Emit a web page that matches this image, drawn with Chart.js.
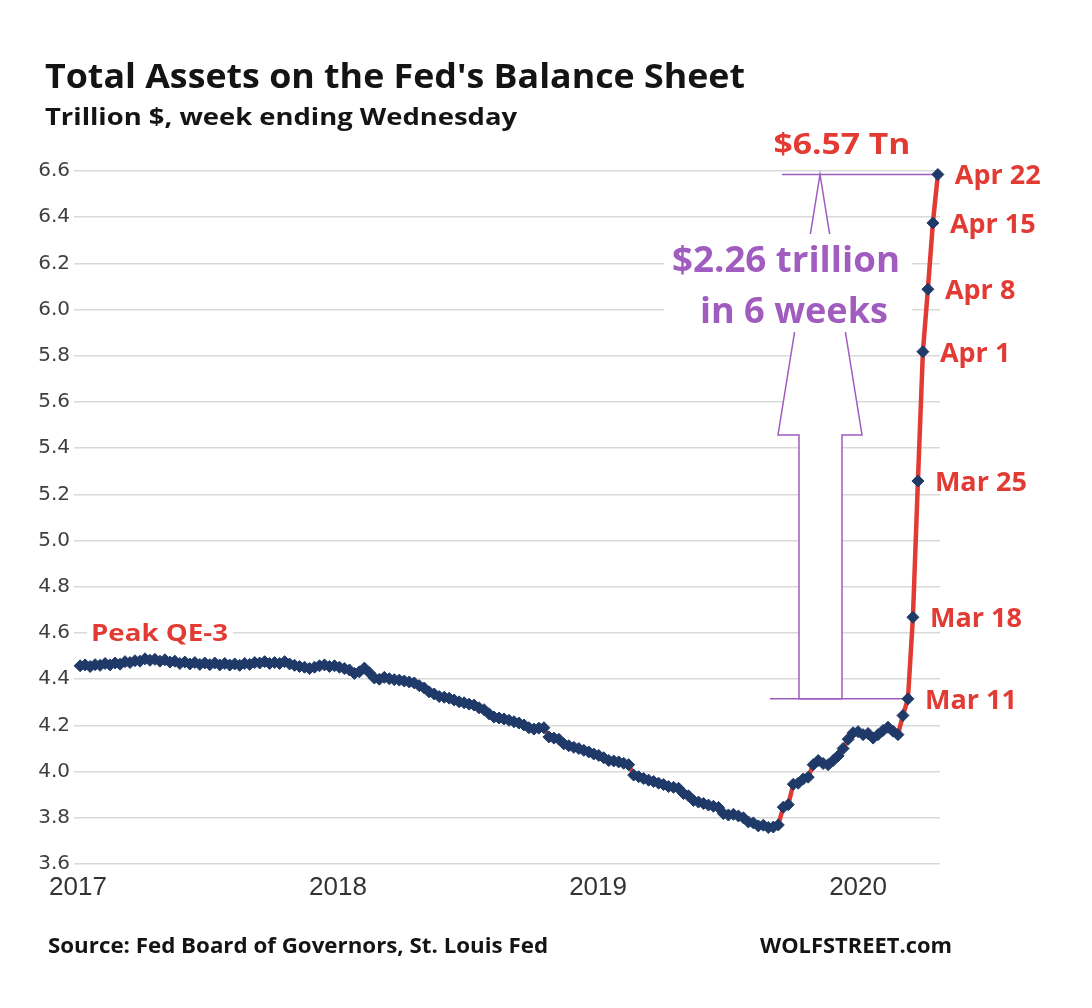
<!DOCTYPE html>
<html>
<head>
<meta charset="utf-8">
<title>Total Assets on the Fed's Balance Sheet</title>
<script src="https://cdn.jsdelivr.net/npm/chart.js@4.4.1/dist/chart.umd.min.js"></script>
<style>
  html, body { margin: 0; padding: 0; background: #fff; }
  canvas { display: block; }
</style>
</head>
<body>
<canvas id="fedChart" width="1092" height="1008"></canvas>
<script>
// Total assets, trillion $, one value per week ending Wednesday
const firstWeek = "2017-01-04";

const assets2017 = [
    4.458, 4.462, 4.455, 4.463, 4.460, 4.468, 4.462, 4.470, 4.465, 4.476,
    4.472, 4.480, 4.478, 4.488, 4.482, 4.486, 4.478, 4.484, 4.474, 4.478,
    4.468, 4.474, 4.466, 4.472, 4.464, 4.470, 4.463, 4.470, 4.462, 4.468,
    4.461, 4.466, 4.460, 4.468, 4.464, 4.472, 4.470, 4.476, 4.468, 4.472,
    4.468, 4.476, 4.466, 4.460, 4.455, 4.452, 4.446, 4.452, 4.458, 4.462,
    4.455, 4.458
];
const assets2018 = [
    4.452, 4.446, 4.440, 4.425, 4.432, 4.448, 4.428, 4.405, 4.400, 4.408,
    4.402, 4.398, 4.396, 4.392, 4.388, 4.384, 4.372, 4.362, 4.345, 4.336,
    4.325, 4.322, 4.318, 4.310, 4.302, 4.298, 4.292, 4.288, 4.276, 4.268,
    4.250, 4.236, 4.232, 4.228, 4.222, 4.216, 4.210, 4.202, 4.190, 4.184,
    4.188, 4.190, 4.150, 4.145, 4.140, 4.120, 4.112, 4.105, 4.100, 4.092,
    4.085, 4.076
];
const assets2019 = [
    4.070, 4.060, 4.048, 4.046, 4.042, 4.036, 4.030, 3.985, 3.978, 3.970,
    3.963, 3.957, 3.950, 3.944, 3.935, 3.932, 3.928, 3.905, 3.895, 3.875,
    3.868, 3.862, 3.855, 3.850, 3.845, 3.818, 3.812, 3.815, 3.808, 3.800,
    3.782, 3.778, 3.765, 3.768, 3.758, 3.760, 3.769, 3.846, 3.857, 3.945,
    3.950, 3.968, 3.976, 4.030, 4.048, 4.035, 4.030, 4.048, 4.068, 4.100,
    4.140, 4.168
];
const assets2020 = [
    4.173, 4.160, 4.165, 4.145, 4.160, 4.178, 4.192, 4.175, 4.160, 4.243,
    4.315, 4.668, 5.258, 5.818, 6.088, 6.375, 6.585
];

const yearLabels = ["2017", "2018", "2019", "2020"];
const yTickLabels = ["3.6", "3.8", "4.0", "4.2", "4.4", "4.6", "4.8", "5.0",
                     "5.2", "5.4", "5.6", "5.8", "6.0", "6.2", "6.4", "6.6"];
// the last weeks, labelled next to their points
const weekLabels = ["Mar 11", "Mar 18", "Mar 25", "Apr 1", "Apr 8", "Apr 15", "Apr 22"];

const RED = "#e23b34";
const NAVY = "#1f3a68";
const PURPLE = "#a15cbf";
const INK = "#141414";
const FONT = "'Open Sans', 'Noto Sans', sans-serif";

// x = days since Jan 1, 2017
const DAY = 86400000;
const origin = Date.UTC(2017, 0, 1);
const startDay = (Date.parse(firstWeek) - origin) / DAY;
const allAssets = [...assets2017, ...assets2018, ...assets2019, ...assets2020];
const points = allAssets.map((v, i) => ({ x: startDay + 7 * i, y: v }));
const yearDays = yearLabels.map(y => (Date.UTC(Number(y), 0, 1) - origin) / DAY);

// draw text squeezed/stretched to a given width
function fitText(ctx, text, x, y, size, width, color, align) {
    ctx.save();
    ctx.font = "bold " + size + "px " + FONT;
    ctx.fillStyle = color;
    ctx.textBaseline = "alphabetic";
    const w = ctx.measureText(text).width;
    const sx = width ? width / w : 1;
    const x0 = align === "center" ? x - (w * sx) / 2 : x;
    ctx.translate(x0, y);
    ctx.scale(sx, 1);
    ctx.fillText(text, 0, 0);
    ctx.restore();
}

const annotations = {
    id: "annotations",
    beforeDatasetsDraw(chart) {
        const ctx = chart.ctx;
        const pts = chart.getDatasetMeta(0).data;
        const top = pts[pts.length - 1];
        const base = pts[pts.length - weekLabels.length];

        ctx.save();
        // big hollow arrow, white inside
        ctx.beginPath();
        ctx.moveTo(820, top.y);
        ctx.lineTo(862, 435);
        ctx.lineTo(842, 435);
        ctx.lineTo(842, base.y);
        ctx.lineTo(799, base.y);
        ctx.lineTo(799, 435);
        ctx.lineTo(778, 435);
        ctx.closePath();
        ctx.fillStyle = "#fff";
        ctx.fill();
        ctx.strokeStyle = PURPLE;
        ctx.lineWidth = 1.5;
        ctx.stroke();

        // level lines at start and end of the 6 weeks
        ctx.beginPath();
        ctx.moveTo(782, top.y);
        ctx.lineTo(top.x, top.y);
        ctx.moveTo(770, base.y);
        ctx.lineTo(base.x, base.y);
        ctx.stroke();

        // white behind texts
        ctx.fillStyle = "#fff";
        ctx.fillRect(664, 234, 248, 98);
        ctx.fillRect(87, 620, 146, 25);
        ctx.restore();

        fitText(ctx, "$2.26 trillion", 786, 272, 35, 228, PURPLE, "center");
        fitText(ctx, "in 6 weeks", 794, 323, 35, 188, PURPLE, "center");
        fitText(ctx, "Peak QE-3", 91, 641, 24, 137, RED);
    },
    afterDatasetsDraw(chart) {
        const ctx = chart.ctx;
        const pts = chart.getDatasetMeta(0).data;
        const first = pts.length - weekLabels.length;
        weekLabels.forEach((lbl, i) => {
            const p = pts[first + i];
            fitText(ctx, lbl, p.x + 17, p.y + 10, 27, null, RED);
        });
    },
    afterDraw(chart) {
        const ctx = chart.ctx;
        fitText(ctx, "Total Assets on the Fed's Balance Sheet", 45, 88, 34, 700, INK);
        fitText(ctx, "Trillion $, week ending Wednesday", 45, 125, 24, 472, INK);
        fitText(ctx, "$6.57 Tn", 842, 154, 28, 137, RED, "center");
        fitText(ctx, "Source: Fed Board of Governors, St. Louis Fed", 48, 953, 22, 500, INK);
        fitText(ctx, "WOLFSTREET.com", 760, 953, 22, 192, INK);
    }
};

const chart = new Chart(document.getElementById("fedChart"), {
    type: "line",
    data: {
        datasets: [{
            data: points,
            borderColor: RED,
            borderWidth: 4.5,
            tension: 0,
            pointStyle: "rectRot",
            pointRadius: 6,
            pointBackgroundColor: NAVY,
            pointBorderColor: NAVY,
            pointBorderWidth: 1,
            clip: false
        }]
    },
    options: {
        responsive: false,
        animation: false,
        devicePixelRatio: 1,
        layout: { padding: { top: 171, right: 152, bottom: 104, left: 0 } },
        plugins: {
            legend: { display: false },
            tooltip: { enabled: false }
        },
        scales: {
            x: {
                type: "linear",
                min: 0,
                max: 1210,
                afterFit: (s) => { s.height = 40; },
                afterBuildTicks: (s) => { s.ticks = yearDays.map(v => ({ value: v })); },
                grid: { display: false },
                border: { display: false },
                ticks: {
                    maxRotation: 0,
                    autoSkip: false,
                    padding: 0,
                    color: "#333",
                    font: { family: "'Liberation Sans Narrow', 'Liberation Sans', sans-serif", size: 26 },
                    callback: (v) => yearLabels[yearDays.indexOf(v)]
                }
            },
            y: {
                min: 3.6,
                max: 6.6,
                afterFit: (s) => { s.width = 78; },
                afterBuildTicks: (s) => { s.ticks = yTickLabels.map(t => ({ value: parseFloat(t) })); },
                grid: { color: "#d9d9d9", lineWidth: 1.5, tickLength: 4 },
                border: { display: false },
                ticks: {
                    padding: 4,
                    color: "#404040",
                    font: { family: "'DejaVu Sans', sans-serif", size: 20 },
                    callback: (v) => yTickLabels.find(t => parseFloat(t) === v)
                }
            }
        }
    },
    plugins: [annotations]
});
</script>
</body>
</html>
